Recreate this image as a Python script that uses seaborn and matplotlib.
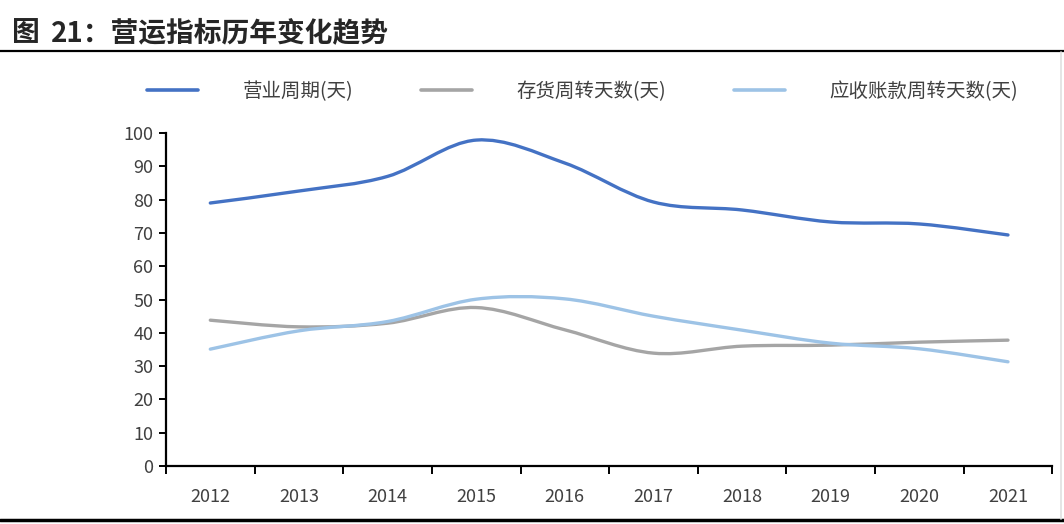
import numpy as np
import pandas as pd
import matplotlib
matplotlib.use("Agg")
import matplotlib.pyplot as plt
from matplotlib.path import Path
from matplotlib.patches import PathPatch
from matplotlib.lines import Line2D
import seaborn as sns

# data
years = ["2012", "2013", "2014", "2015", "2016", "2017", "2018", "2019", "2020", "2021"]
operating_cycle = [79.0, 82.6, 87.0, 97.9, 91.0, 79.3, 76.9, 73.3, 72.7, 69.4]
inventory_days = [43.8, 41.8, 42.9, 47.6, 40.9, 33.9, 36.0, 36.3, 37.2, 37.8]
receivable_days = [35.1, 40.6, 43.4, 50.1, 50.2, 45.0, 40.8, 36.9, 35.2, 31.3]
series_names = ["营业周期(天)", "存货周转天数(天)", "应收账款周转天数(天)"]
colors = ["#4472C4", "#A5A5A5", "#9DC3E6"]

sns.set_theme(style="white")
plt.rcParams["font.family"] = ["Noto Sans CJK SC", "DejaVu Sans"]

df = pd.DataFrame({"year": years * 3,
                   "value": operating_cycle + inventory_days + receivable_days,
                   "series": np.repeat(series_names, len(years))})
df["x"] = df["year"].map({y: i for i, y in enumerate(years)})

fig = plt.figure(figsize=(10.64, 5.24), dpi=100)
ax = fig.add_axes([0.156, 0.1107, 0.833, 0.6353])

sns.lineplot(data=df, x="x", y="value", hue="series", hue_order=series_names,
             palette=colors, ax=ax, legend=False, linewidth=2.3)


def smooth_path(xs, ys):
    # Excel-like smoothed line: Catmull-Rom segments as cubic Beziers
    pts = np.column_stack([xs, ys])
    verts = [pts[0]]
    codes = [Path.MOVETO]
    n = len(pts)
    for i in range(n - 1):
        p0 = pts[max(i - 1, 0)]
        p1 = pts[i]
        p2 = pts[i + 1]
        p3 = pts[min(i + 2, n - 1)]
        c1 = p1 + (p2 - p0) / 6.0
        c2 = p2 - (p3 - p1) / 6.0
        verts += [c1, c2, p2]
        codes += [Path.CURVE4] * 3
    return Path(verts, codes)


# swap the straight seaborn lines for smoothed curves
for line, c in zip(list(ax.lines), colors):
    xs, ys = line.get_xdata(), line.get_ydata()
    line.set_visible(False)
    ax.add_patch(PathPatch(smooth_path(xs, ys), facecolor="none", edgecolor=c,
                           lw=2.4, capstyle="round", zorder=3))

ax.set_xlim(-0.5, len(years) - 0.5)
ax.set_ylim(0, 100)
ax.set_yticks(range(0, 101, 10))
ax.set_xticks(range(len(years)))
ax.set_xticklabels(years)
ax.set_xticks(np.arange(-0.5, len(years), 1), minor=True)
ax.set_xlabel("")
ax.set_ylabel("")

for side in ["top", "right"]:
    ax.spines[side].set_visible(False)
for side in ["left", "bottom"]:
    ax.spines[side].set_color("black")
    ax.spines[side].set_linewidth(1.6)

ax.tick_params(axis="y", which="major", left=True, length=5, width=1.4, color="black",
               labelsize=13, labelcolor="#404040", pad=4)
ax.tick_params(axis="x", which="major", bottom=False, length=0, labelsize=13,
               labelcolor="#404040", pad=16)
ax.tick_params(axis="x", which="minor", bottom=True, length=6, width=1.4, color="black")

handles = [Line2D([0], [0], color=c, lw=2.6) for c in colors]
leg = fig.legend(handles, series_names, loc="center left", bbox_to_anchor=(0.122, 0.826),
                 ncol=3, frameon=False, handlelength=2.6, handletextpad=2.3,
                 columnspacing=3.5, fontsize=14)
for t in leg.get_texts():
    t.set_color("#404040")

fig.text(0.011, 0.937, "图", fontsize=20, fontweight="bold", va="center", ha="left")
fig.text(0.048, 0.937, "21：营运指标历年变化趋势", fontsize=20, fontweight="bold",
         va="center", ha="left")
fig.add_artist(Line2D([0, 1], [0.903, 0.903], color="black", lw=1.6,
                      transform=fig.transFigure))
fig.add_artist(Line2D([0, 1], [0.008, 0.008], color="black", lw=2.5,
                      transform=fig.transFigure))
fig.add_artist(Line2D([0.997, 0.997], [0.01, 0.9], color="#E0E0E0", lw=1.2,
                      transform=fig.transFigure))

fig.savefig("out.png", dpi=100)
